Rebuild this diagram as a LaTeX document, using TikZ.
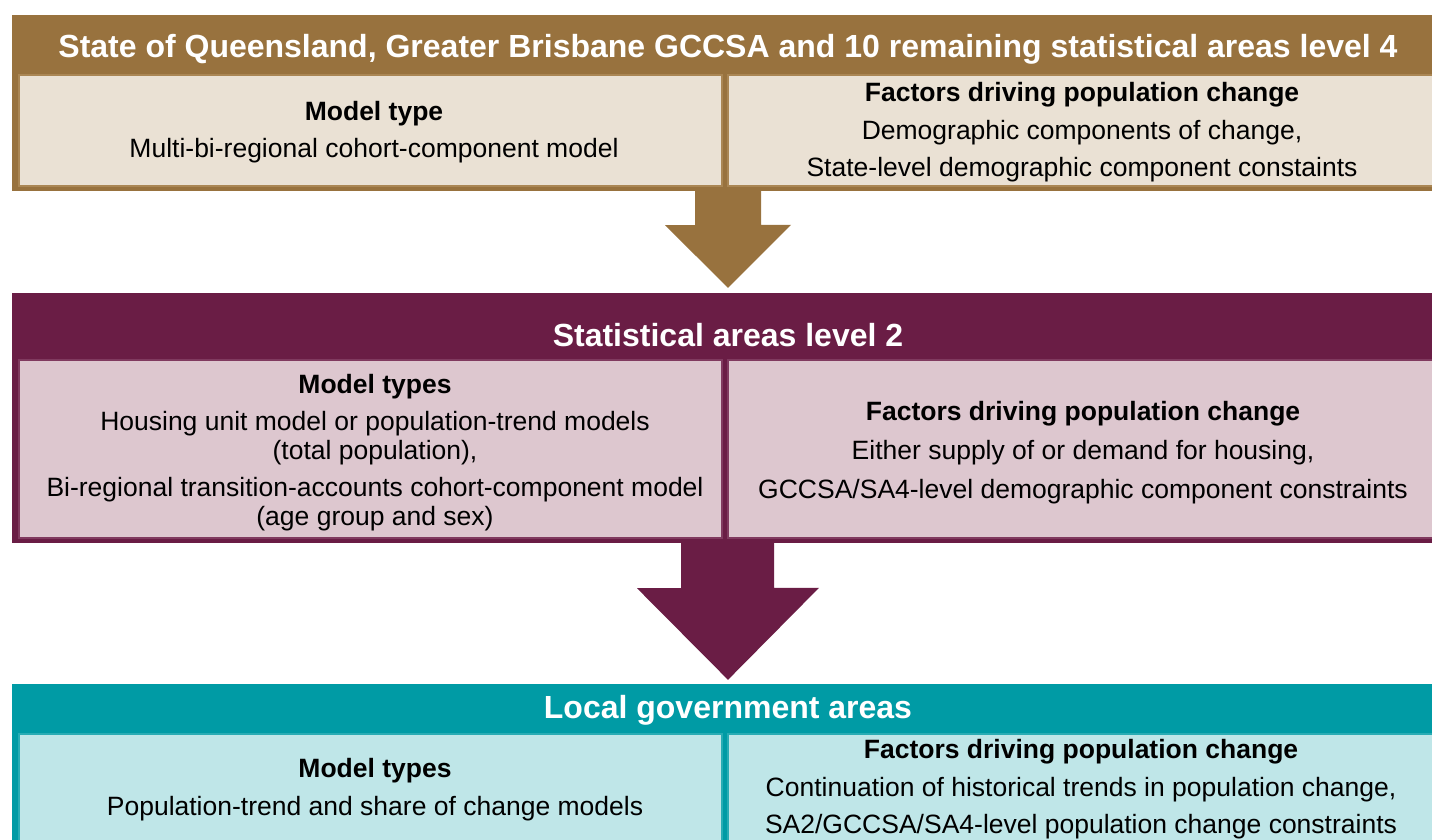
\documentclass[tikz,border=0pt]{standalone}
\usepackage{fontspec}
\setmainfont{Liberation Sans}
\usetikzlibrary{calc}

% palette
\definecolor{qbrown}{RGB}{152,114,62}
\definecolor{qbrownlt}{RGB}{234,225,212}
\definecolor{qbrownln}{RGB}{170,134,84}
\definecolor{qplum}{RGB}{106,29,69}
\definecolor{qplumlt}{RGB}{221,199,207}
\definecolor{qplumln}{RGB}{128,58,95}
\definecolor{qteal}{RGB}{0,155,165}
\definecolor{qteallt}{RGB}{191,230,232}
\definecolor{qtealln}{RGB}{40,172,180}

\tikzset{
  band/.style={rectangle, inner sep=0pt, minimum width=1428pt, draw=none},
  panel/.style={rectangle, inner sep=0pt, line width=2pt},
  headtxt/.style={anchor=base, inner sep=0pt, text=white,
    font=\fontsize{32}{36}\selectfont\bfseries},
  subtxt/.style={anchor=base, inner sep=0pt, text=black,
    font=\fontsize{26.5}{30}\selectfont\bfseries},
  bodytxt/.style={anchor=base, inner sep=0pt, text=black,
    font=\fontsize{26.5}{30}\selectfont},
}

\begin{document}
\begin{tikzpicture}[x=1pt, y=-1pt]
\useasboundingbox (0,0) rectangle (1432,839);
\clip (0,0) rectangle (1432,839);
\fill[white] (0,0) rectangle (1432,839);

% ---- tier 1: state / GCCSA / SA4 ----
\node[band, fill=qbrown, minimum height=176pt] (band1) at (726,103) {};
\node[panel, fill=qbrownlt, draw=qbrownln, minimum width=703pt, minimum height=111pt] (p1l) at (370.5,130.5) {};
\node[panel, fill=qbrownlt, draw=qbrownln, minimum width=712pt, minimum height=111pt] (p1r) at (1084,130.5) {};
\node[headtxt] (h1) at (728,57.5) {State of Queensland, Greater Brisbane GCCSA and 10 remaining statistical areas level 4};
\node[subtxt]  (l1a) at (374,120) {Model type};
\node[bodytxt] (l1b) at (374,157) {Multi-bi-regional cohort-component model};
\node[subtxt]  (r1a) at (1082,101) {Factors driving population change};
\node[bodytxt] (r1b) at (1082,139) {Demographic components of change,};
\node[bodytxt] (r1c) at (1082,176) {State-level demographic component constaints};

% ---- tier 2: SA2 ----
\node[band, fill=qplum, minimum height=250pt] (band2) at (726,418) {};
\node[panel, fill=qplumlt, draw=qplumln, minimum width=703pt, minimum height=178pt] (p2l) at (370.5,449) {};
\node[panel, fill=qplumlt, draw=qplumln, minimum width=712pt, minimum height=178pt] (p2r) at (1084,449) {};
\node[headtxt] (h2) at (728,346.5) {Statistical areas level 2};
\node[subtxt]  (l2a) at (375,393) {Model types};
\node[bodytxt] (l2b) at (375,430) {Housing unit model or population-trend models};
\node[bodytxt] (l2c) at (375,459) {(total population),};
\node[bodytxt] (l2d) at (375,496) {Bi-regional transition-accounts cohort-component model};
\node[bodytxt] (l2e) at (375,525) {(age group and sex)};
\node[subtxt]  (r2a) at (1083,420) {Factors driving population change};
\node[bodytxt] (r2b) at (1083,459) {Either supply of or demand for housing,};
\node[bodytxt] (r2c) at (1083,498) {GCCSA/SA4-level demographic component constraints};

% ---- tier 3: LGA ----
\node[band, fill=qteal, minimum height=166pt] (band3) at (726,767) {};
\node[panel, fill=qteallt, draw=qtealln, minimum width=703pt, minimum height=116pt] (p3l) at (370.5,792) {};
\node[panel, fill=qteallt, draw=qtealln, minimum width=712pt, minimum height=116pt] (p3r) at (1084,792) {};
\node[headtxt] (h3) at (728,718) {Local government areas};
\node[subtxt]  (l3a) at (375,777) {Model types};
\node[bodytxt] (l3b) at (375,815) {Population-trend and share of change models};
\node[subtxt]  (r3a) at (1081,758) {Factors driving population change};
\node[bodytxt] (r3b) at (1081,796) {Continuation of historical trends in population change,};
\node[bodytxt] (r3c) at (1081,833) {SA2/GCCSA/SA4-level population change constraints};

% ---- block arrows between tiers ----
\fill[qbrown] ($(band1.south)+(-31,-2)$) -- ++(0,36) -- ++(-30,0)
  -- ($(band2.north)+(2,-5)$) -- ++(63,-63) -- ++(-30,0) -- ++(0,-36) -- cycle;
\fill[qplum] ($(band2.south)+(-45,-2)$) -- ++(0,47) -- ++(-44,0)
  -- ($(band3.north)+(2,-4)$) -- ++(91,-92) -- ++(-45,0) -- ++(0,-47) -- cycle;
\end{tikzpicture}
\end{document}
